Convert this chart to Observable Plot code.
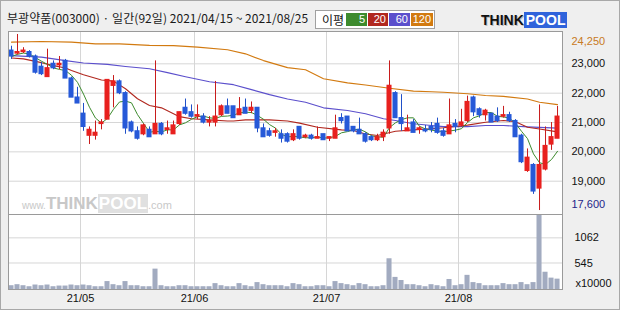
<!DOCTYPE html>
<html><head><meta charset="utf-8">
<script src="https://cdn.jsdelivr.net/npm/d3@7"></script>
<script src="https://cdn.jsdelivr.net/npm/@observablehq/plot@0.6"></script>
<style>
html,body{margin:0;padding:0;background:#efefef;}
#wrap{position:relative;width:620px;height:310px;background:#efefef;overflow:hidden;font-family:"Noto Sans CJK KR","Noto Sans",sans-serif;}
#outer{position:absolute;left:0;top:0;width:620px;height:310px;box-sizing:border-box;border:1px solid #a8a8a8;pointer-events:none;}
.abs{position:absolute;}
#title{left:7px;top:9px;font-size:12px;color:#1a1a1a;letter-spacing:0.05px;white-space:nowrap;line-height:18px;}
#legend{left:315px;top:10px;width:120px;height:19px;box-sizing:border-box;border:1px solid #a0a0a0;background:#fff;font-size:11px;}
#legend span{position:absolute;top:2px;height:13px;line-height:13px;color:#fff;text-align:right;padding-right:2px;box-sizing:border-box;font-family:"Liberation Sans",sans-serif;}
#logo{left:481px;top:12px;height:16px;font-family:"Liberation Sans",Arial,sans-serif;font-weight:bold;font-size:14px;line-height:16px;white-space:nowrap;}
#wm{left:22px;top:196px;font-family:"Liberation Sans",Arial,sans-serif;color:#c8c8c8;white-space:nowrap;line-height:16px;}
svg{position:absolute;left:0;}
</style></head>
<body>
<div id="wrap">
  <div id="title" class="abs">부광약품(003000) · 일간(92일) 2021/04/15 ~ 2021/08/25</div>
  <div id="legend" class="abs"><b style="position:absolute;left:6px;top:1px;font-weight:normal;color:#111;font-size:12px;line-height:15px;">이평</b></div>
  <div id="logo" class="abs"><span style="color:#111;text-shadow:1px 1px 0 #bbb;">THINK</span><span style="background:#2f63db;color:#fff;padding:0 2px;">POOL</span></div>
  <div id="wm" class="abs"><span style="font-size:10px;">www.</span><span style="font-size:17px;font-weight:bold;">THINK</span><span style="font-size:17px;font-weight:bold;color:#fff;background:#e0e0e0;padding:0 1px;">POOL</span><span style="font-size:11px;">.com</span></div>
  <div id="outer"></div>
</div>
<script>
// ---- data ----
const openP = [23450,23350,23400,23400,23250,22900,22550,23000,22950,23100,
22500,21850,21300,20550,20550,20950,21100,22250,22400,22000,
21000,20700,20600,20750,20600,20950,20750,20600,20950,21500,
21350,21200,21200,21000,21000,21250,21550,21550,21250,21500,
21400,21500,20800,20700,20650,20600,20600,20400,20850,20500,
20550,20450,20600,20450,20450,21150,21200,20850,20750,20600,
20500,20400,20500,20800,22000,21150,20700,21000,20750,20750,
20850,20950,20700,20600,20950,20900,21050,21850,21450,21250,
21300,21200,21200,21250,21050,20550,19350,19550,18750,19400,
20250,20450];
const highP = [23600,24000,23550,23450,23300,23050,23500,23100,23250,23150,
22550,22200,21650,20850,21050,21100,22450,22600,22450,22050,
21050,20850,20950,20850,23100,21000,21050,21050,21350,21800,
21600,21600,21300,21200,22400,21600,21800,21550,21850,21800,
21700,21500,20950,20800,20800,20750,20650,20750,20850,20600,
20600,20850,20600,20500,21250,21300,21200,20850,21150,20650,
20550,20600,20750,23100,22050,21950,21250,21100,20850,20900,
21000,21150,20800,21800,21100,21450,21900,21900,21500,21450,
21300,21500,21550,21350,21100,20600,20100,19600,21600,20850,
21000,21550];
const lowP = [23150,23300,23350,23200,22650,22600,22550,22800,22800,22500,
21850,21650,20700,20250,20400,20750,21100,21500,21950,20600,
20650,20400,20550,20500,20600,20550,20600,20600,20900,21250,
21150,21100,20950,20850,20850,21200,21300,21150,21250,21300,
21300,20650,20500,20500,20500,20300,20300,20350,20400,20450,
20400,20450,20400,20350,20450,20950,20700,20650,20600,20300,
20350,20350,20350,20600,21150,20700,20700,20650,20600,20650,
20650,20600,20500,20600,20650,20850,21000,21200,21150,21050,
21000,21000,21150,21000,20500,19600,19300,18550,18000,19350,
20050,20450];
const closeP = [23250,23400,23450,23250,22700,22650,22850,22850,23000,22500,
21850,21650,20850,20750,20650,21000,22450,22400,22000,20800,
20700,20450,20900,20500,20950,20600,20800,20900,21350,21300,
21200,21250,21000,21050,21200,21550,21300,21150,21450,21300,
21500,20800,20500,20550,20700,20450,20350,20600,20450,20550,
20450,20500,20400,20500,20800,21050,20700,20700,20600,20350,
20400,20500,20650,22250,21150,20950,20800,20650,20800,20700,
20750,20650,20550,20900,20850,21000,21700,21350,21250,21400,
21000,21050,21250,21050,20500,19650,19800,18650,19550,20200,
20500,21200];
// volume in units of 10,000 shares
const volume = [78,99,78,57,92,78,92,57,71,71,
92,78,92,78,57,57,163,99,78,163,
78,78,57,57,419,78,57,57,78,78,
57,57,57,57,121,78,57,57,121,78,
57,142,99,78,78,78,57,121,99,57,
57,78,78,57,163,121,99,78,121,99,
57,57,78,632,249,185,99,99,78,57,
99,78,57,206,78,99,291,142,121,78,
78,78,121,99,99,142,99,142,1525,355,
234,213];
// moving averages (day index -> price)
const ma20Idx = [0,2,5,7,9,10,12,15,17,19,21,23,25,27,28,30,33,36,37,39,41,43,46,48,51,55,57,59,61,62,64,67,70,72,76,79,82,84,86,88,91];
const ma20Val = [23200,23170,23040,22940,22860,22770,22630,22450,22410,22150,21810,21580,21500,21300,21200,21130,21090,21050,21050,21090,21090,21090,21050,20980,20840,20750,20730,20610,20560,20610,20700,20750,20790,20820,20910,21010,21070,21030,20840,20780,20680];
const ma60Idx = [0,5,9,12,16,19,23,26,29,33,37,40,43,46,49,52,56,59,62,64,67,70,72,76,79,82,86,91];
const ma60Val = [23280,23230,23110,23030,22980,22910,22830,22700,22560,22390,22290,22120,21950,21800,21690,21500,21410,21300,21130,21070,20960,20900,20860,20860,20900,20900,20850,20810];
const ma120Idx = [0,5,10,14,18,23,27,31,36,39,42,46,49,52,56,59,63,67,70,72,76,79,82,86,88,91];
const ma120Val = [23740,23760,23740,23680,23680,23630,23620,23570,23480,23340,23110,22870,22800,22490,22350,22280,22170,22070,22050,22030,21980,21920,21890,21800,21690,21610];
const priceTicks = [19000,20000,21000,22000,23000];
const priceMaxLabel = 24250, priceMinLabel = 17600;
const volTicks = [545,1062];
const monthStartIdx = [12,31,53,75];
const monthLabels = ["21/05","21/06","21/07","21/08"];
const maLegend = [{k:"5",c:"#3d8b2e"},{k:"20",c:"#b1281f"},{k:"60",c:"#5b4fcc"},{k:"120",c:"#d27a10"}];

// ---- build ----
const candles = openP.map((o,i)=>({i, open:o, high:highP[i], low:lowP[i], close:closeP[i], vol:volume[i]}));
const ma = (idx,val)=>idx.map((d,j)=>({i:d, v:val[j]}));
const RED="#e8201e", BLUE="#2659d8", WRED="#c81c1c", WBLUE="#2050c8";
const up = d => d.close >= d.open;
const xDom = [-0.5, 91.83];
const grid = "#d6d6d6";
const monthPos = monthStartIdx.map(d=>d-0.5);
const font = {fontFamily:"'Liberation Sans',Arial,sans-serif", fontSize:"11px", background:"transparent", color:"#111", overflow:"visible"};

// legend boxes
const lg = document.getElementById("legend");
[[30,21],[52,20],[73,21],[95,22]].forEach(([l,w],j)=>{
  const s=document.createElement("span"); s.textContent=maLegend[j].k;
  s.style.left=l+"px"; s.style.width=w+"px"; s.style.background=maLegend[j].c; lg.appendChild(s);
});

const price = Plot.plot({
  width:620, height:183, marginLeft:8, marginRight:58, marginTop:0, marginBottom:0,
  style: font,
  x:{domain:xDom, axis:null},
  y:{domain:[17865,24102], axis:null},
  marks:[
    Plot.frame({fill:"#fff", stroke:null}),
    Plot.ruleY(priceTicks, {stroke:grid}),
    Plot.ruleX(monthPos, {stroke:grid}),
    Plot.line(ma(ma120Idx,ma120Val), {x:"i", y:"v", stroke:maLegend[3].c, strokeWidth:1.1}),
    Plot.line(ma(ma60Idx,ma60Val), {x:"i", y:"v", stroke:maLegend[2].c, strokeWidth:1.1}),
    Plot.line(ma(ma20Idx,ma20Val), {x:"i", y:"v", stroke:maLegend[1].c, strokeWidth:1.1}),
    Plot.line(candles, Plot.windowY({k:5, anchor:"end", reduce:"mean"}, {x:"i", y:"close", stroke:maLegend[0].c, strokeWidth:1})),
    Plot.ruleX(candles, {x:"i", y1:"low", y2:"high", stroke:d=>up(d)?WRED:WBLUE, strokeWidth:1}),
    Plot.rect(candles, {x1:d=>d.i-0.42, x2:d=>d.i+0.42, y1:"open", y2:"close", fill:d=>up(d)?RED:BLUE, insetTop:-0.6, insetBottom:-0.6}),
    Plot.axisY({ticks:priceTicks, anchor:"right", tickSize:0, tickPadding:9, tickFormat:d3.format(","), label:null, fontSize:11}),
    Plot.text([priceMaxLabel], {text:d=>d3.format(",")(d), frameAnchor:"top-right", dx:9, dy:6, textAnchor:"start", fill:"#c87a24", fontSize:11}),
    Plot.text([priceMinLabel], {text:d=>d3.format(",")(d), frameAnchor:"bottom-right", dx:9, dy:-7, textAnchor:"start", fill:"#1e1e8a", fontSize:11}),
    Plot.frame({stroke:"#9a9a9a"})
  ]
});
price.style.top="31px";

const vol = Plot.plot({
  width:620, height:96, marginLeft:8, marginRight:58, marginTop:0, marginBottom:21,
  style: font,
  x:{domain:xDom, axis:null},
  y:{domain:[0,1542], axis:null},
  marks:[
    Plot.frame({fill:"#fff", stroke:null}),
    Plot.ruleY(volTicks, {stroke:grid}),
    Plot.ruleX(monthPos, {stroke:grid}),
    Plot.rect(candles, {x1:d=>d.i-0.42, x2:d=>d.i+0.42, y1:0, y2:"vol", fill:"#a2abc0"}),
    Plot.axisY({ticks:volTicks, anchor:"right", tickSize:0, tickPadding:12, tickFormat:d=>String(d), label:null, fontSize:11}),
    Plot.text(["x10000"], {frameAnchor:"bottom-right", dx:13, dy:-3, textAnchor:"start", fontSize:11}),
    Plot.axisX({ticks:monthPos, anchor:"bottom", tickSize:0, tickPadding:5, tickFormat:(d,k)=>monthLabels[monthPos.indexOf(d)], label:null, fontSize:11}),
    Plot.frame({stroke:"#9a9a9a"})
  ]
});
vol.style.top="214px";

const wrap=document.getElementById("wrap");
wrap.insertBefore(price, document.getElementById("wm"));
wrap.insertBefore(vol, document.getElementById("wm"));
</script>
</body></html>
